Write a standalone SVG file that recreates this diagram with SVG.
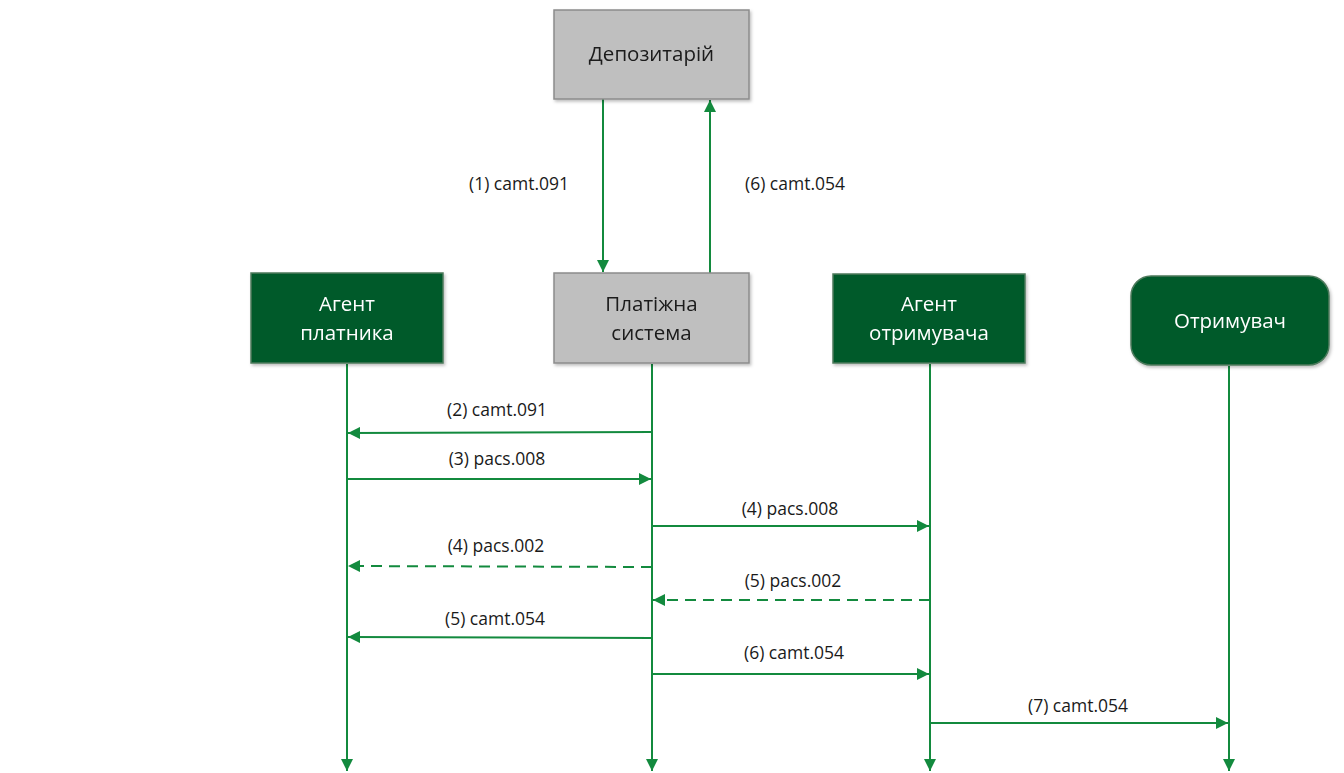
<svg xmlns="http://www.w3.org/2000/svg" width="1344" height="773" viewBox="0 0 1344 773">
<style>
.gray{fill:#bfbfbf;stroke:#8c8c8c;stroke-width:1.5}
.green{fill:#025a2b;stroke:#4d7a5c;stroke-width:1.5}
.nt{font-family:"Open Sans","Liberation Sans",sans-serif;font-size:20.5px;text-anchor:middle}
.dk{fill:#1a1a1a}
.wt{fill:#ffffff}
.ln{stroke:#138a3e;stroke-width:2;fill:none}
.ds{stroke-dasharray:11 7}
.lb{font-family:"Open Sans","Liberation Sans",sans-serif;font-size:17.5px;fill:#1a1a1a;text-anchor:middle}
</style>
<defs>
<marker id="ah" viewBox="0 0 12 12" refX="12" refY="6" markerWidth="12" markerHeight="12" markerUnits="userSpaceOnUse" orient="auto">
<path d="M0,0 L12,6 L0,12 Z" fill="#138a3e"/>
</marker>
<filter id="sh" x="-5%" y="-5%" width="115%" height="120%">
<feDropShadow dx="1.5" dy="2" stdDeviation="1.5" flood-color="#000" flood-opacity="0.25"/>
</filter>
</defs>
<rect width="1344" height="773" fill="#ffffff"/>
<g id="connectors">
<line class="ln" x1="347" y1="364" x2="347" y2="771" marker-end="url(#ah)"/>
<line class="ln" x1="652" y1="364" x2="652" y2="771" marker-end="url(#ah)"/>
<line class="ln" x1="930" y1="364" x2="930" y2="771" marker-end="url(#ah)"/>
<line class="ln" x1="1229" y1="366" x2="1229" y2="771" marker-end="url(#ah)"/>
<line class="ln" x1="603" y1="99" x2="603" y2="272" marker-end="url(#ah)"/>
<line class="ln" x1="710" y1="273" x2="710" y2="100" marker-end="url(#ah)"/>
<line class="ln" x1="652" y1="432" x2="348" y2="433" marker-end="url(#ah)"/>
<line class="ln" x1="347" y1="479" x2="651" y2="479" marker-end="url(#ah)"/>
<line class="ln" x1="652" y1="526" x2="929" y2="526" marker-end="url(#ah)"/>
<line class="ln ds" x1="652" y1="567" x2="348" y2="566" marker-end="url(#ah)"/>
<line class="ln ds" x1="930" y1="600" x2="653" y2="600" marker-end="url(#ah)"/>
<line class="ln" x1="652" y1="638" x2="348" y2="637" marker-end="url(#ah)"/>
<line class="ln" x1="652" y1="674" x2="929" y2="674" marker-end="url(#ah)"/>
<line class="ln" x1="930" y1="723" x2="1228" y2="723" marker-end="url(#ah)"/>
<text class="lb" x="519" y="190">(1) camt.091</text>
<text class="lb" x="795" y="190">(6) camt.054</text>
<text class="lb" x="497" y="416">(2) camt.091</text>
<text class="lb" x="497" y="465">(3) pacs.008</text>
<text class="lb" x="790" y="515">(4) pacs.008</text>
<text class="lb" x="496" y="552">(4) pacs.002</text>
<text class="lb" x="793" y="587">(5) pacs.002</text>
<text class="lb" x="495" y="625">(5) camt.054</text>
<text class="lb" x="794" y="659">(6) camt.054</text>
<text class="lb" x="1078" y="712">(7) camt.054</text>
</g>
<g id="depozytarii" filter="url(#sh)">
<rect class="gray" x="554" y="10" width="195" height="89"/>
<text class="nt dk" x="651.5" y="61">Депозитарій</text>
</g>
<g id="platizhna-systema" filter="url(#sh)">
<rect class="gray" x="554" y="273" width="195" height="90"/>
<text class="nt dk" x="651.5" y="311">Платіжна</text>
<text class="nt dk" x="651.5" y="340">система</text>
</g>
<g id="agent-platnyka" filter="url(#sh)">
<rect class="green" x="251" y="273" width="192" height="90"/>
<text class="nt wt" x="347" y="311">Агент</text>
<text class="nt wt" x="347" y="340">платника</text>
</g>
<g id="agent-otrymuvacha" filter="url(#sh)">
<rect class="green" x="833" y="274" width="192" height="89"/>
<text class="nt wt" x="929" y="311">Агент</text>
<text class="nt wt" x="929" y="340">отримувача</text>
</g>
<g id="otrymuvach" filter="url(#sh)">
<rect class="green" x="1131" y="276" width="198" height="89" rx="20" ry="20"/>
<text class="nt wt" x="1230" y="328">Отримувач</text>
</g>
</svg>
